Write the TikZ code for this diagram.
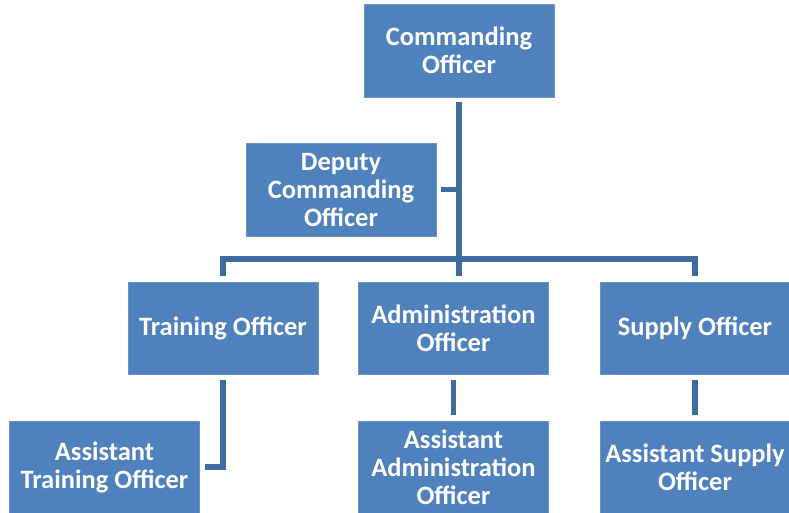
\documentclass[tikz,border=0pt]{standalone}
\usepackage{fontspec}
\setmainfont{Carlito}
\usetikzlibrary{calc}
\definecolor{boxblue}{HTML}{4F81BD}
\definecolor{lineblue}{HTML}{3F6C9E}
\tikzset{
  orgbox/.style={fill=boxblue, draw=boxblue!85!white, line width=0.8pt, minimum width=190pt, minimum height=92pt,
    inner sep=0pt, align=center, text=white, font=\fontsize{26.5}{28}\selectfont\bfseries},
  conn/.style={draw=lineblue, line width=5.5pt, line join=miter, line cap=butt}
}
\begin{document}
\begin{tikzpicture}[x=1pt,y=-1pt]
\useasboundingbox (0,0) rectangle (789,512);
\node[orgbox, minimum height=93pt] (co) at (459,50.5) {Commanding\\Officer};
\node[orgbox, minimum height=93pt] (deputy) at (341,189.5) {Deputy\\Commanding\\Officer};
\node[orgbox] (training) at (223,328) {Training Officer};
\node[orgbox] (admin) at (453.5,328) {Administration\\Officer};
\node[orgbox] (supply) at (695,328) {Supply Officer};
\node[orgbox] (atr) at (104.5,467) {Assistant\\Training Officer};
\node[orgbox] (aadm) at (453.5,467) {Assistant\\Administration\\Officer};
\node[orgbox] (asup) at (695,467) {Assistant Supply\\Officer};
\coordinate (bar) at (459,259);
% trunk
\draw[conn] ($(co.south)+(0,5)$) -- ($(co.south |- training.north)+(0,-6)$);
% horizontal bar with end ticks
\draw[conn] ($(training.north)+(0,-6)$) |- (bar) -| ($(supply.north)+(0,-6)$);
% deputy stub
\draw[conn] ($(deputy.east)+(5,0)$) -- (deputy.east -| co.south);
% training to assistant
\draw[conn] ($(training.south)+(0,6)$) |- ($(atr.east)+(5,0)$);
% admin to assistant
\draw[conn] ($(admin.south)+(0,6)$) -- ($(aadm.north)+(0,-6)$);
% supply to assistant
\draw[conn] ($(supply.south)+(0,6)$) -- ($(asup.north)+(0,-6)$);
\end{tikzpicture}
\end{document}
